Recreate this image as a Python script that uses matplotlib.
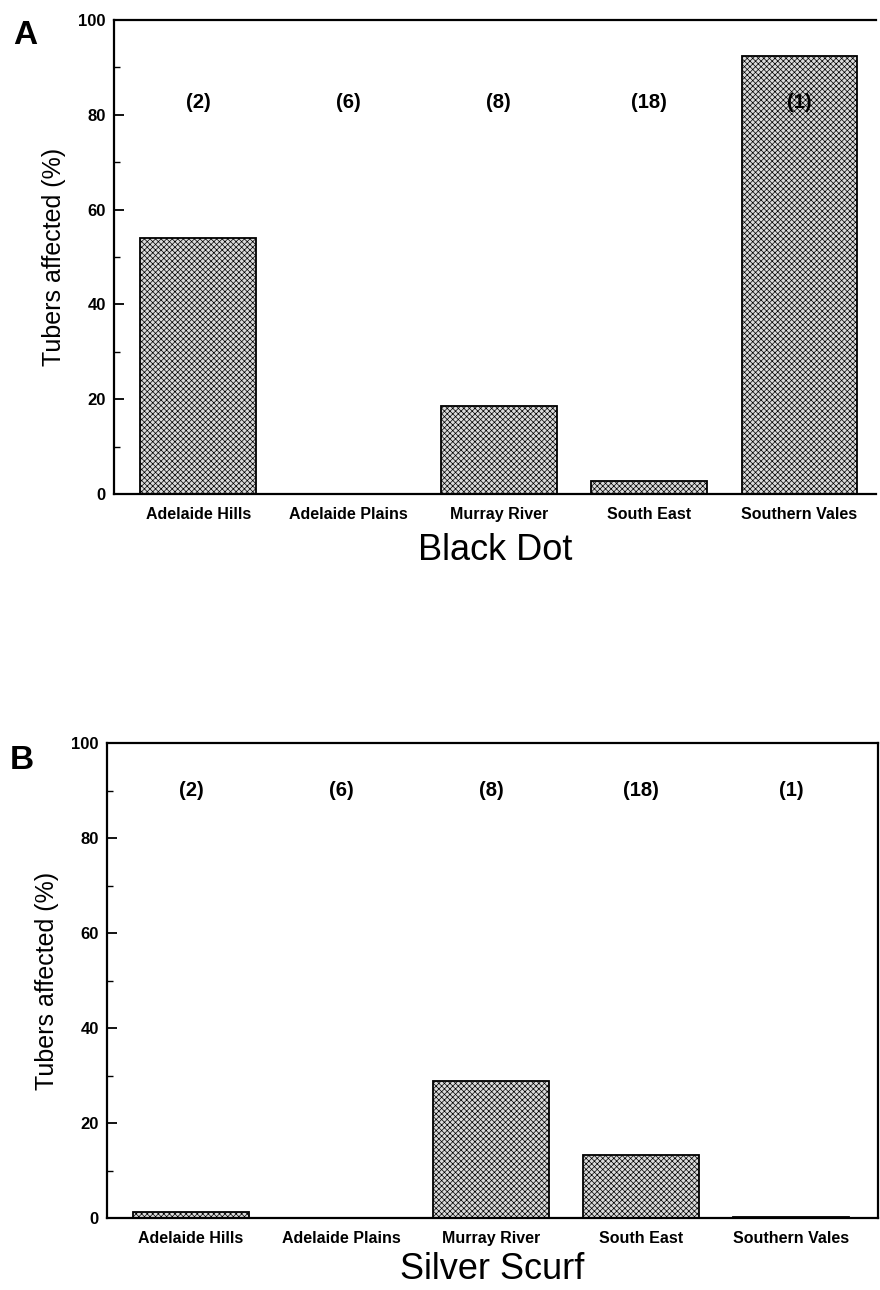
import matplotlib.pyplot as plt
from matplotlib.ticker import MultipleLocator

# Daten
regions = ["Adelaide Hills", "Adelaide Plains", "Murray River", "South East", "Southern Vales"]
samples = ["(2)", "(6)", "(8)", "(18)", "(1)"]
black_dot = [54, 0, 18.5, 2.7, 92.3]
silver_scurf = [1.3, 0, 28.8, 13.3, 0.2]

plt.rcParams['font.family'] = ['Liberation Sans', 'DejaVu Sans']
plt.rcParams['hatch.linewidth'] = 0.5
plt.rcParams['hatch.color'] = '#3a3a3a'

fig = plt.figure(figsize=(8.8, 12.9), dpi=100)

ax1 = fig.add_axes([0.1295, 0.617, 0.866, 0.3675])
ax2 = fig.add_axes([0.1216, 0.0558, 0.8764, 0.3682])


def panel(ax, values, name, letter, label_y, xlim_right, letter_pos, xpad):
    x = range(len(regions))
    ax.bar(x, values, width=0.77, color='#dadada', edgecolor='black',
           linewidth=1.3, hatch='xxxxxx')
    ax.set_xlim(-0.56, xlim_right)
    ax.set_ylim(0, 100)
    ax.set_xticks(list(x))
    ax.set_xticklabels(regions, fontsize=11.5, fontweight='bold')
    ax.tick_params(axis='x', length=0, pad=9)
    ax.yaxis.set_major_locator(MultipleLocator(20))
    ax.yaxis.set_minor_locator(MultipleLocator(10))
    ax.tick_params(axis='y', which='major', direction='in', length=7.5, width=1.3, pad=6)
    ax.tick_params(axis='y', which='minor', direction='in', length=4, width=1)
    for t in ax.get_yticklabels():
        t.set_fontsize(12)
        t.set_fontweight('bold')
    for s in ax.spines.values():
        s.set_linewidth(1.6)
    ax.set_ylabel("Tubers affected (%)", fontsize=18, labelpad=9)
    ax.set_xlabel(name, fontsize=26, labelpad=xpad)
    for i, s in enumerate(samples):
        ax.text(i, label_y, s, ha='center', va='center', fontsize=14.5, fontweight='bold')
    fig.text(letter_pos[0], letter_pos[1], letter, fontsize=24,
             fontweight='bold', ha='center', va='center')


panel(ax1, black_dot, "Black Dot", "A", 82.5, 4.51, (25 / 880, 1 - 35 / 1290), 8)
ax1.spines['right'].set_visible(False)
panel(ax2, silver_scurf, "Silver Scurf", "B", 90, 4.58, (22 / 880, 1 - 760 / 1290), 5)

plt.savefig("out.png", dpi=100)
